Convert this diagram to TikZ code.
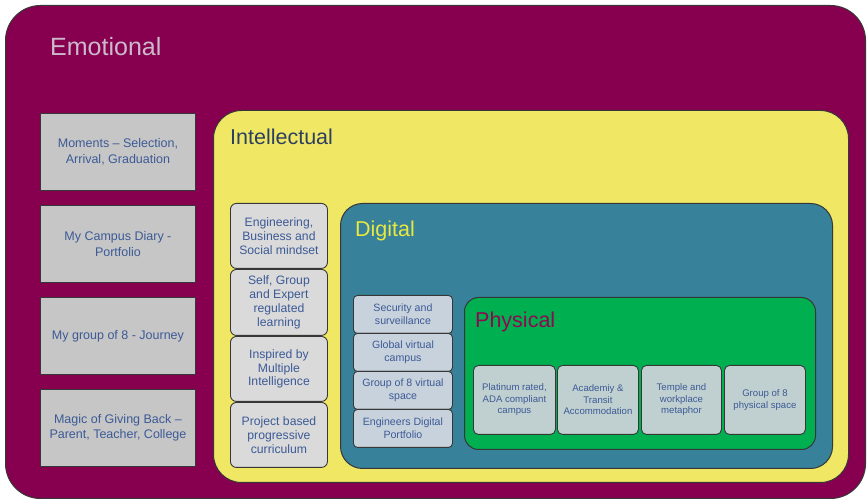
\documentclass[tikz,border=0pt]{standalone}
\usepackage{fontspec}
\setmainfont{Liberation Sans}
\definecolor{emofill}{RGB}{135,0,80}
\definecolor{emotext}{RGB}{204,186,204}
\definecolor{leftfill}{RGB}{198,198,198}
\definecolor{boxtext}{RGB}{60,90,150}
\definecolor{yelfill}{RGB}{240,232,100}
\definecolor{inttext}{RGB}{45,64,96}
\definecolor{intbox}{RGB}{218,218,218}
\definecolor{digfill}{RGB}{56,129,154}
\definecolor{digtext}{RGB}{232,232,64}
\definecolor{digbox}{RGB}{200,210,220}
\definecolor{phyfill}{RGB}{0,176,80}
\definecolor{phytext}{RGB}{140,10,80}
\definecolor{phybox}{RGB}{192,208,208}
\definecolor{edge}{RGB}{55,55,55}
\tikzset{
  panel/.style={draw=edge, line width=1pt, anchor=north west, inner sep=0pt},
  item/.style={draw=edge, line width=0.9pt, anchor=north west, inner sep=1pt, align=center, text=boxtext},
  title/.style={anchor=west, inner sep=0pt},
}
\begin{document}
\begin{tikzpicture}[x=1pt,y=-1pt]
\useasboundingbox (0,0) rectangle (868,502);
\fill[white] (0,0) rectangle (868,502);
% panels
\node[panel, fill=emofill, rounded corners=35pt, minimum width=860pt, minimum height=493pt] (emo) at (5,5) {};
\node[panel, fill=yelfill, rounded corners=28pt, minimum width=635pt, minimum height=372pt] (int) at (213,110) {};
\node[panel, fill=digfill, rounded corners=22pt, minimum width=492pt, minimum height=265pt] (dig) at (340,203) {};
\node[panel, fill=phyfill, rounded corners=14pt, minimum width=351pt, minimum height=152pt] (phy) at (464,297) {};
% titles
\node[title, text=emotext, font=\fontsize{25}{29}\selectfont] (temo) at (50,47) {Emotional};
\node[title, text=inttext, font=\fontsize{21.5}{25}\selectfont] (tint) at (230,137) {Intellectual};
\node[title, text=digtext, font=\fontsize{21.5}{25}\selectfont] (tdig) at (355,231) {Digital};
\node[title, text=phytext, font=\fontsize{21.5}{25}\selectfont] (tphy) at (475,322) {Physical};
% emotional items
\tikzset{emoitem/.style={item, fill=leftfill, minimum width=155pt, minimum height=77pt, font=\fontsize{12.5}{15.5}\selectfont}}
\node[emoitem] (e1) at (40,113) {Moments -- Selection,\\Arrival, Graduation};
\node[emoitem] (e2) at (40,205) {My Campus Diary -\\Portfolio};
\node[emoitem] (e3) at (40,297) {My group of 8 - Journey};
\node[emoitem] (e4) at (40,389) {Magic of Giving Back --\\Parent, Teacher, College};
% intellectual items
\tikzset{intitem/.style={item, fill=intbox, rounded corners=6pt, minimum width=97pt, font=\fontsize{12.2}{13.8}\selectfont}}
\node[intitem, minimum height=65pt] (i1) at (230,203) {Engineering,\\Business and\\Social mindset};
\node[intitem, minimum height=66pt] (i2) at (230,269) {Self, Group\\and Expert\\regulated\\learning};
\node[intitem, minimum height=65pt] (i3) at (230,336) {Inspired by\\Multiple\\Intelligence};
\node[intitem, minimum height=65pt] (i4) at (230,402) {Project based\\progressive\\curriculum};
% digital items
\tikzset{digitem/.style={item, fill=digbox, rounded corners=4pt, minimum width=99pt, minimum height=38pt, font=\fontsize{10.6}{13}\selectfont}}
\node[digitem] (d1) at (353,295) {Security and\\surveillance};
\node[digitem] (d2) at (353,333) {Global virtual\\campus};
\node[digitem] (d3) at (353,371) {Group of 8 virtual\\space};
\node[digitem] (d4) at (353,409) {Engineers Digital\\Portfolio};
% physical items
\tikzset{phyitem/.style={item, fill=phybox, rounded corners=5pt, minimum height=69pt, font=\fontsize{9.6}{11.5}\selectfont}}
\node[phyitem, minimum width=82pt] (p1) at (473,365) {Platinum rated,\\ADA compliant\\campus};
\node[phyitem, minimum width=81pt] (p2) at (557,365) {Academiy \&\\Transit\\Accommodation};
\node[phyitem, minimum width=80pt] (p3) at (641,365) {Temple and\\workplace\\metaphor};
\node[phyitem, minimum width=81pt] (p4) at (724,365) {Group of 8\\physical space};
\end{tikzpicture}
\end{document}
